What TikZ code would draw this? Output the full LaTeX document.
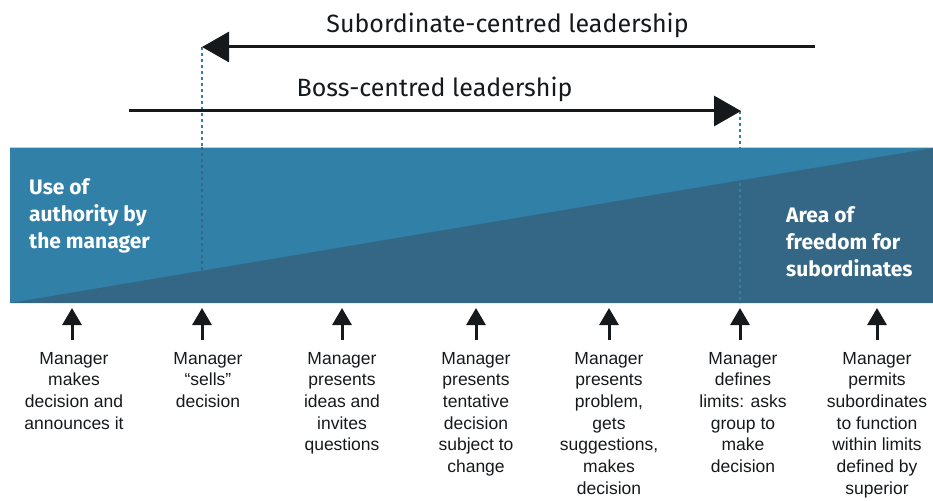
\documentclass[tikz,border=0pt]{standalone}
\usepackage{fontspec}
\setmainfont{Liberation Sans}
\newfontfamily\dinfont{Fira Sans}
\usetikzlibrary{arrows.meta}
\definecolor{lightband}{HTML}{3180A8}
\definecolor{darkband}{HTML}{336785}
\definecolor{inkblack}{HTML}{16191B}
\tikzset{
  bigarrow/.style={draw=inkblack, line width=3pt, -{Triangle[length=27pt,width=30pt]}},
  uparrow/.style={draw=inkblack, line width=3pt, -{Triangle[length=17pt,width=19pt]}},
  toplabel/.style={font=\dinfont\fontsize{25}{30}\selectfont, text=inkblack, inner sep=0pt},
  bandlabel/.style={font=\dinfont\bfseries\fontsize{21}{27}\selectfont, text=white, inner sep=0pt, align=left},
  desc/.style={font=\fontsize{17.5}{21.7}\selectfont, text=inkblack, inner sep=0pt, align=center},
  dashline/.style={line width=1.5pt, dash pattern=on 3pt off 3pt}
}
\begin{document}
\begin{tikzpicture}[x=1pt,y=-1pt]
\useasboundingbox (0,0) rectangle (933,500);
% band
\fill[lightband] (10,147) rectangle (933,303);
\fill[darkband] (10,303) -- (933,148) -- (933,303) -- cycle;
\draw[black!20, line width=0.8pt] (10,147) -- (933,147);
% dashed guides
\draw[dashline, draw=lightband] (202,47) -- (202,147);
\draw[dashline, draw=darkband] (202,147) -- (202,271);
\draw[dashline, draw=lightband] (740,111) -- (740,303);
% top arrows
\coordinate (subR) at (815,47);
\coordinate (subL) at (202,47);
\coordinate (bossL) at (129,111);
\coordinate (bossR) at (741,111);
\draw[bigarrow] (subR) -- (subL);
\draw[bigarrow] (bossL) -- (bossR);
\node[toplabel, anchor=base] (subtext) at (507.5,33) {Subordinate-centred leadership};
\node[toplabel, anchor=base] (bosstext) at (434.5,97) {Boss-centred leadership};
% band labels (anchor = baseline of last line)
\node[bandlabel, anchor=base west] (usel) at (29,248) {Use of\\authority by\\the manager};
\node[bandlabel, anchor=base west] (areal) at (786,276) {Area of\\freedom for\\subordinates};
% bottom arrows
\foreach \i/\x in {1/72,2/202,3/342,4/476,5/609,6/740,7/877}{
  \coordinate (b\i) at (\x,340);
  \coordinate (a\i) at (\x,308);
  \draw[uparrow] (b\i) -- (a\i);
}
% descriptions (anchor = baseline of last line)
\node[desc, anchor=base] (t1) at (74,429.1) {Manager\\makes\\decision and\\announces it};
\node[desc, anchor=base] (t2) at (208,407.4) {Manager\\“sells”\\decision};
\node[desc, anchor=base] (t3) at (342,450.8) {Manager\\presents\\ideas and\\invites\\questions};
\node[desc, anchor=base] (t4) at (476,472.5) {Manager\\presents\\tentative\\decision\\subject to\\change};
\node[desc, anchor=base] (t5) at (609,494.2) {Manager\\presents\\problem,\\gets\\suggestions,\\makes\\decision};
\node[desc, anchor=base] (t6) at (743,472.5) {Manager\\defines\\limits: asks\\group to\\make\\decision};
\node[desc, anchor=base] (t7) at (877,494.2) {Manager\\permits\\subordinates\\to function\\within limits\\defined by\\superior};
\end{tikzpicture}
\end{document}
